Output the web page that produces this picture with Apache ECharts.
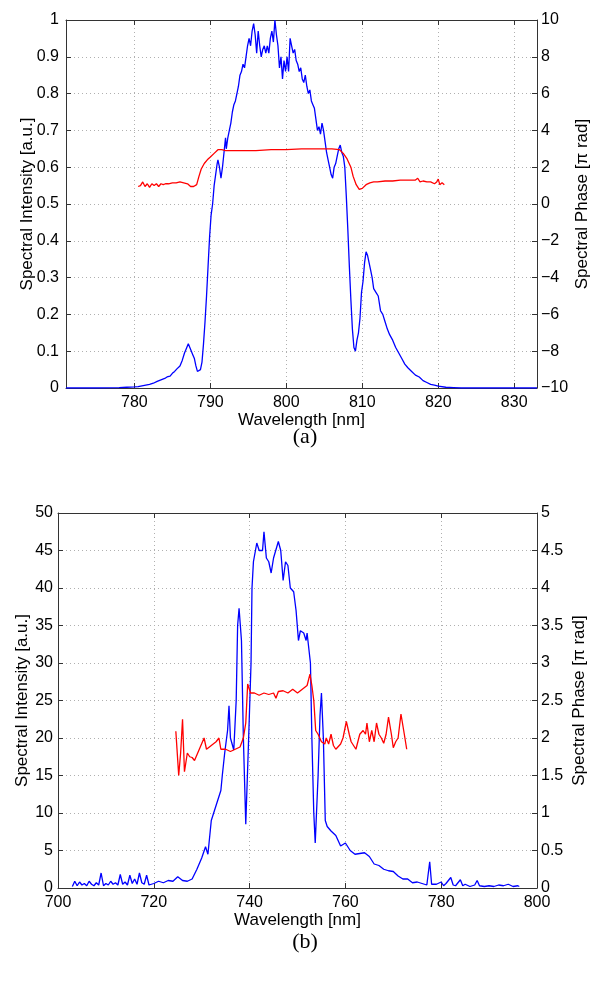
<!DOCTYPE html>
<html>
<head>
<meta charset="utf-8">
<script src="https://cdn.jsdelivr.net/npm/echarts@6/dist/echarts.min.js"></script>
<style>html,body{margin:0;padding:0;background:#fff;}#c{width:603px;height:984px;}</style>
</head>
<body>
<div id="c"></div>
<script>
// ---------- Panel (a) ----------
const aIntWl = [771,775,778,779,780,780.5,781,781.5,782,782.5,783,783.5,784,784.3,784.7,785,785.3,785.6,786,786.3,786.6,786.9,787.1,787.3,787.5,787.7,787.9,788.1,788.3,788.5,788.7,788.9,789.1,789.3,789.5,789.7,789.9,790.1,790.3,790.5,790.7,790.9,791.0,791.2,791.4,791.6,791.8,792.0,792.1,792.3,792.5,792.7,792.9,793.1,793.3,793.5,793.7,793.9,794.1,794.3,794.5,794.7,794.9,795.1,795.3,795.5,795.7,795.9,796.1,796.3,796.5,796.7,796.9,797.1,797.3,797.5,797.7,797.9,798.1,798.3,798.5,798.7,798.9,799.1,799.3,799.5,799.7,799.9,800.1,800.3,800.5,800.7,800.9,801.1,801.3,801.5,801.7,801.9,802.1,802.3,802.5,802.7,802.9,803.1,803.3,803.5,803.7,803.9,804.1,804.3,804.5,804.7,804.9,805.1,805.3,805.5,805.7,805.9,806.1,806.3,806.5,806.7,806.9,807.1,807.3,807.5,807.7,807.9,808.1,808.3,808.5,808.7,808.9,809.1,809.3,809.5,809.7,809.9,810.1,810.3,810.5,810.7,810.9,811.1,811.3,811.5,811.8,812.1,812.4,812.7,813.0,813.3,813.6,814.0,814.4,814.8,815.2,815.6,816,816.5,817,817.5,818,818.5,819,819.5,820,821,822,823,833];
const aInt = [0,0,0.001,0.002,0.003,0.004,0.006,0.008,0.01,0.013,0.018,0.022,0.026,0.03,0.032,0.04,0.045,0.052,0.06,0.075,0.095,0.11,0.12,0.11,0.105,0.09,0.08,0.06,0.045,0.04,0.05,0.07,0.12,0.18,0.25,0.33,0.41,0.47,0.5,0.55,0.58,0.61,0.62,0.6,0.57,0.6,0.64,0.68,0.65,0.68,0.70,0.72,0.75,0.77,0.78,0.80,0.82,0.85,0.86,0.88,0.87,0.90,0.93,0.95,0.93,0.97,0.99,0.96,0.91,0.97,0.93,0.90,0.92,0.93,0.91,0.93,0.91,0.95,0.97,0.94,1.0,0.96,0.93,0.87,0.90,0.84,0.89,0.86,0.90,0.86,0.95,0.93,0.91,0.92,0.89,0.88,0.86,0.87,0.84,0.83,0.85,0.82,0.80,0.81,0.78,0.77,0.76,0.73,0.70,0.71,0.69,0.72,0.70,0.67,0.64,0.62,0.60,0.58,0.57,0.60,0.61,0.63,0.65,0.66,0.64,0.63,0.6,0.52,0.43,0.33,0.24,0.16,0.11,0.10,0.13,0.15,0.19,0.26,0.29,0.34,0.37,0.36,0.34,0.32,0.30,0.27,0.26,0.25,0.21,0.20,0.18,0.16,0.145,0.13,0.11,0.095,0.08,0.065,0.055,0.045,0.035,0.03,0.02,0.015,0.01,0.008,0.005,0.002,0.001,0,0];
const aPhWl = [780.5,780.8,781.1,781.4,781.7,782,782.3,782.6,782.9,783.2,783.5,783.8,784.1,784.5,785,785.5,786,786.5,787,787.4,787.8,788.2,788.5,788.8,789.2,789.6,790,790.5,791,791.5,792,794,796,798,800,802,804,806,807,807.5,808,808.5,808.8,809.2,809.6,810,810.5,811,811.5,812,813,814,815,816,817,817.3,817.6,818,818.5,819,819.5,819.8,820,820.2,820.5,820.8];
const aPh = [0.95,1.0,1.2,0.95,1.1,0.9,1.1,1.0,1.1,0.95,1.1,1.05,1.1,1.1,1.15,1.15,1.2,1.15,1.1,0.95,0.95,1.05,1.5,1.9,2.2,2.4,2.55,2.75,2.95,2.95,2.9,2.9,2.9,2.95,2.95,3.0,3.0,3.0,2.95,2.75,2.45,2.0,1.5,1.05,0.8,0.85,1.05,1.15,1.2,1.2,1.25,1.25,1.3,1.3,1.3,1.4,1.2,1.25,1.2,1.2,1.1,1.2,1.35,1.05,1.15,1.05];
const aXTicks = [780,790,800,810,820,830];

// ---------- Panel (b) ----------
const bIntWl = [703,703.5,704,704.5,705,705.5,706,706.5,707,707.5,708,708.5,709,709.5,710,710.5,711,711.5,712,712.5,713,713.5,714,714.5,715,715.5,716,716.5,717,717.5,718,718.5,719,720,721,722,723,724,725,726,727,728,729,730,730.8,731.3,732,733,734,734.3,734.8,735.4,735.7,736,736.7,737.2,737.5,737.8,738.3,738.7,739.2,739.7,740.3,740.5,740.8,741.5,742,742.7,743,743.5,744,744.5,745,746,746.5,747,747.5,748,748.5,749.2,749.7,750.2,750.6,751.3,751.8,752,752.7,753,753.4,753.7,754.3,754.7,755,755.4,755.8,756.2,757,758,759,760,761,762,763,764,765,766,767,768,769,770,771,772,773,774,775,776,777,777.6,778,779,780,780.5,781,782,782.5,783,784,784.5,785,786,787,787.5,788,789,790,791,792,793,794,795,796,796.3];
const bInt = [0.2,0.9,0.3,0.8,0.4,0.6,0.3,0.9,0.5,0.3,0.7,0.4,2.0,0.3,0.6,0.4,0.9,0.5,0.7,0.4,1.8,0.5,0.8,0.4,1.7,0.6,1.2,0.5,2.0,0.7,0.5,1.7,0.4,0.6,0.9,0.7,1.0,0.9,1.5,1.0,0.9,1.2,2.5,4.0,5.5,4.5,9.0,11.0,13.0,15.0,18.0,21.0,24.3,20.0,18.4,25.0,35.0,37.3,33.0,20.0,8.5,18.0,30.0,40.0,43.5,46.0,45.0,45.0,47.5,44.0,43.5,42.0,44.0,46.2,45.0,41.0,43.5,43.0,40.0,39.5,37.0,33.0,34.3,34.0,33.0,34.0,30.0,20.0,10.0,6.0,15.0,23.0,26.0,20.0,9.0,8.2,7.6,7.0,5.6,6.0,5.0,4.5,4.6,4.7,4.2,3.2,3.0,2.5,2.3,2.2,1.6,1.2,1.2,0.7,0.8,0.6,0.4,3.5,0.5,0.5,0.8,0.3,0.6,1.4,0.4,0.3,1.1,0.3,0.5,0.2,0.4,1.0,0.3,0.2,0.3,0.2,0.4,0.3,0.5,0.2,0.3,0.2,0.5];
const bPhWl = [724.6,725.2,725.6,726,726.4,727,727.5,728,728.5,729.5,730.5,731,732,733,733.6,734,735,736,737,738,738.7,739.2,739.6,740.2,741,742,743,744,745,745.5,746,747,748,749,750,751,752,752.6,753,753.4,753.8,754.3,755,755.7,756,756.5,757,757.5,758,759,759.5,760.2,760.8,761.2,761.6,762.2,763,763.7,764.2,764.5,765,765.5,766,766.5,767,767.5,768,768.5,769,769.6,770,770.5,771,771.6,772.3,772.8];
const bPh = [2.09,1.5,1.8,2.25,1.55,1.8,1.75,1.74,1.7,1.85,2.0,1.85,1.9,1.95,2.0,1.85,1.85,1.82,1.85,1.88,2.0,2.2,2.72,2.6,2.6,2.57,2.6,2.58,2.6,2.53,2.62,2.63,2.6,2.65,2.6,2.65,2.7,2.85,2.7,2.5,2.1,2.05,1.95,1.92,2.0,1.92,2.05,1.9,1.85,1.92,2.0,2.22,2.05,1.95,1.95,1.85,2.05,2.1,2.05,2.2,1.95,2.1,1.95,2.2,2.05,2.0,1.93,2.05,2.28,2.05,1.87,1.95,2.0,2.32,2.05,1.85];

function zip(xs, ys) { return xs.map((x, i) => [x, ys[i]]); }

const FONT = 'Liberation Sans';
const axisLineStyle = { color: '#333', width: 1 };
const gridLine = { show: true, lineStyle: { color: '#b0b0b0', type: [1, 3], width: 1 } };
const lbl = { color: '#000', fontFamily: FONT, fontSize: 16 };
const nameStyle = { color: '#000', fontFamily: FONT, fontSize: 17 };
const minus = v => String(v).replace('-', '\u2212');

const chart = echarts.init(document.getElementById('c'), null, { renderer: 'canvas' });
chart.setOption({
  animation: false,
  backgroundColor: '#fff',
  title: [
    { text: '(a)', left: 300, top: 421, textAlign: 'center', textStyle: { fontFamily: 'Liberation Serif', fontSize: 22, fontWeight: 'normal', color: '#000' } },
    { text: '(b)', left: 300, top: 926, textAlign: 'center', textStyle: { fontFamily: 'Liberation Serif', fontSize: 22, fontWeight: 'normal', color: '#000' } }
  ],
  grid: [
    { left: 66, right: 66, top: 20, bottom: 596 },
    { left: 58, right: 66, top: 513, bottom: 96 }
  ],
  xAxis: [
    { type: 'value', gridIndex: 0, position: 'bottom', min: 771, max: 833,
      name: 'Wavelength [nm]', nameLocation: 'middle', nameGap: 24, nameMoveOverlap: false, nameTextStyle: nameStyle,
      axisLine: { onZero: false, lineStyle: axisLineStyle },
      axisTick: { inside: true, length: 5, lineStyle: { color: '#333' }, customValues: aXTicks },
      axisLabel: Object.assign({ margin: 7, customValues: aXTicks }, lbl),
      splitLine: gridLine },
    { type: 'value', gridIndex: 0, position: 'top', min: 771, max: 833,
      axisLine: { onZero: false, lineStyle: axisLineStyle },
      axisTick: { inside: true, length: 5, lineStyle: { color: '#333' }, customValues: aXTicks },
      axisLabel: { show: false, customValues: aXTicks }, splitLine: { show: false } },
    { type: 'value', gridIndex: 1, position: 'bottom', min: 700, max: 800, interval: 20,
      name: 'Wavelength [nm]', nameLocation: 'middle', nameGap: 24, nameMoveOverlap: false, nameTextStyle: nameStyle,
      axisLine: { onZero: false, lineStyle: axisLineStyle },
      axisTick: { inside: true, length: 5, lineStyle: { color: '#333' } },
      axisLabel: Object.assign({ margin: 7 }, lbl),
      splitLine: gridLine },
    { type: 'value', gridIndex: 1, position: 'top', min: 700, max: 800, interval: 20,
      axisLine: { onZero: false, lineStyle: axisLineStyle },
      axisTick: { inside: true, length: 5, lineStyle: { color: '#333' } },
      axisLabel: { show: false }, splitLine: { show: false } }
  ],
  yAxis: [
    { type: 'value', gridIndex: 0, position: 'left', min: 0, max: 1, interval: 0.1,
      name: 'Spectral Intensity [a.u.]', nameLocation: 'middle', nameGap: 30, nameRotate: 90, nameMoveOverlap: false, nameTextStyle: nameStyle,
      axisLine: { show: true, onZero: false, lineStyle: axisLineStyle },
      axisTick: { show: true, inside: true, length: 5, lineStyle: { color: '#333' } },
      axisLabel: Object.assign({ margin: 7 }, lbl),
      splitLine: gridLine },
    { type: 'value', gridIndex: 0, position: 'right', min: -10, max: 10, interval: 2,
      name: 'Spectral Phase [\u03c0 rad]', nameLocation: 'middle', nameGap: 37, nameRotate: 90, nameMoveOverlap: false, nameTextStyle: nameStyle,
      axisLine: { show: true, onZero: false, lineStyle: axisLineStyle },
      axisTick: { show: true, inside: true, length: 5, lineStyle: { color: '#333' } },
      axisLabel: Object.assign({ margin: 4, formatter: minus }, lbl),
      splitLine: { show: false } },
    { type: 'value', gridIndex: 1, position: 'left', min: 0, max: 50, interval: 5,
      name: 'Spectral Intensity [a.u.]', nameLocation: 'middle', nameGap: 27, nameRotate: 90, nameMoveOverlap: false, nameTextStyle: nameStyle,
      axisLine: { show: true, onZero: false, lineStyle: axisLineStyle },
      axisTick: { show: true, inside: true, length: 5, lineStyle: { color: '#333' } },
      axisLabel: Object.assign({ margin: 5 }, lbl),
      splitLine: gridLine },
    { type: 'value', gridIndex: 1, position: 'right', min: 0, max: 5, interval: 0.5,
      name: 'Spectral Phase [\u03c0 rad]', nameLocation: 'middle', nameGap: 34, nameRotate: 90, nameMoveOverlap: false, nameTextStyle: nameStyle,
      axisLine: { show: true, onZero: false, lineStyle: axisLineStyle },
      axisTick: { show: true, inside: true, length: 5, lineStyle: { color: '#333' } },
      axisLabel: Object.assign({ margin: 4 }, lbl),
      splitLine: { show: false } }
  ],
  series: [
    { type: 'line', xAxisIndex: 0, yAxisIndex: 0, data: zip(aIntWl, aInt), showSymbol: false, lineStyle: { color: '#0000ff', width: 1.3 }, z: 3 },
    { type: 'line', xAxisIndex: 0, yAxisIndex: 1, data: zip(aPhWl, aPh), showSymbol: false, lineStyle: { color: '#ff0000', width: 1.3 }, z: 4 },
    { type: 'line', xAxisIndex: 2, yAxisIndex: 2, data: zip(bIntWl, bInt), showSymbol: false, lineStyle: { color: '#0000ff', width: 1.3 }, z: 3 },
    { type: 'line', xAxisIndex: 2, yAxisIndex: 3, data: zip(bPhWl, bPh), showSymbol: false, lineStyle: { color: '#ff0000', width: 1.3 }, z: 4 }
  ]
});
</script>
</body>
</html>
